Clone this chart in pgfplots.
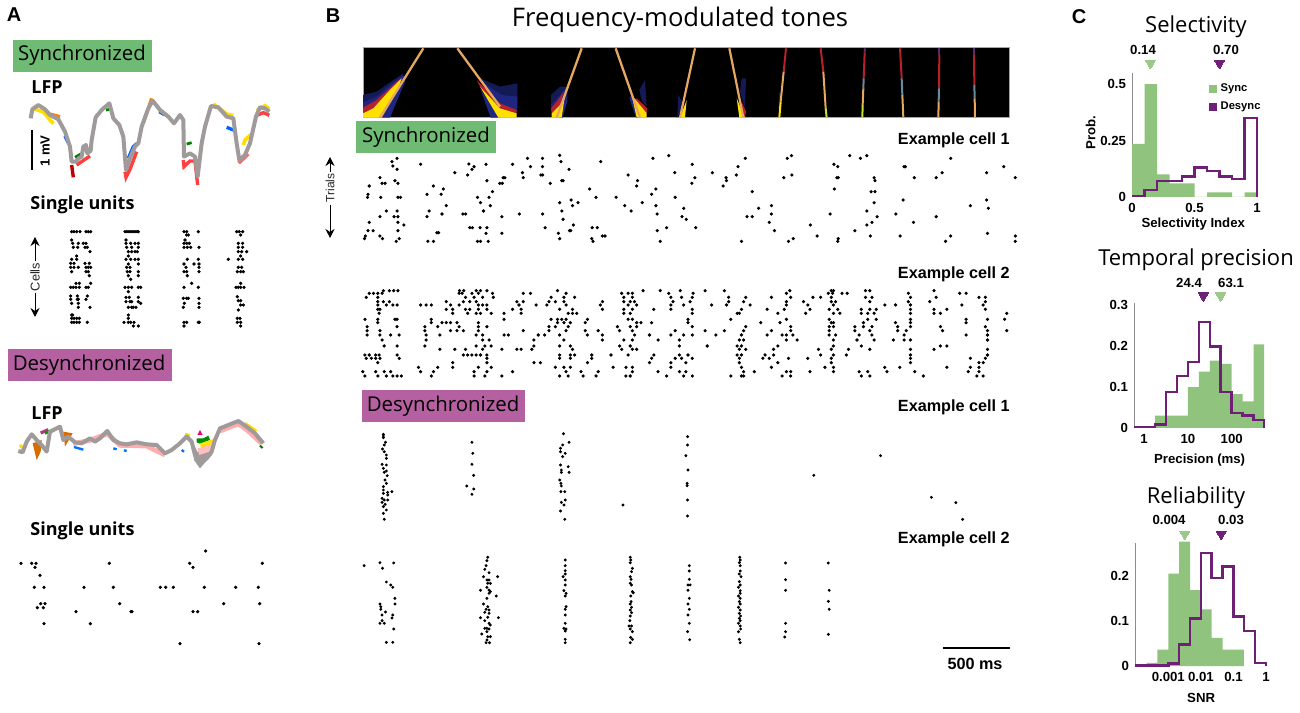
\documentclass[border=0pt]{standalone}
\usepackage{fontspec}
\usepackage{pgfplots}
\pgfplotsset{compat=1.18}
\usetikzlibrary{arrows.meta}
\setmainfont{Liberation Sans}
\newfontfamily\titlefont{Open Sans}
\definecolor{boxgreen}{HTML}{6FBB74}
\definecolor{boxpink}{HTML}{B560A0}
\definecolor{syncg}{HTML}{8FC37E}
\definecolor{desy}{HTML}{6E1F76}
\definecolor{trigreen}{HTML}{9CC88A}
\definecolor{lfpgrey}{HTML}{A09A9A}
\definecolor{lineor}{HTML}{E6A860}
\definecolor{specblue}{HTML}{1E2680}
\definecolor{specdim}{HTML}{141A55}
\definecolor{specred}{HTML}{B8202A}
\definecolor{specpur}{HTML}{5A2A6A}
\definecolor{specgrey}{HTML}{6A8AA0}
\definecolor{specyel}{HTML}{FFE000}
\definecolor{specyg}{HTML}{C8E030}
\newcommand{\titlesize}{\titlefont\fontsize{11}{13}\selectfont}
\newcommand{\smallbold}{\bfseries\fontsize{6.6}{7.5}\selectfont}
\newcommand{\labelbold}{\bfseries\fontsize{8.1}{9}\selectfont}
% 1 px of the reference = 0.5pt here
\pgfplotsset{
  panel/.style n args={6}{hide axis, scale only axis, clip=false, y dir=reverse,
    anchor=south west, at={({#1*0.5pt},{(712-#2-#4)*0.5pt})},
    width={#3*0.5pt}, height={#4*0.5pt}, xmin=0, xmax=#5, ymin=0, ymax=#6},
  hist/.style n args={4}{scale only axis, clip=false, anchor=south west,
    at={({#1*0.5pt},{(712-#2-#4)*0.5pt})}, width={#3*0.5pt}, height={#4*0.5pt},
    axis y line*=left, axis x line*=bottom, axis line style={-},
    x axis line style={draw=none}, y axis line style={draw=black!45, line width=0.4pt},
    tick style={draw=none}, tick label style={font=\smallbold},
    xticklabel style={yshift=0.5pt}, yticklabel style={xshift=0.5pt},
    x label style={font=\smallbold}, y label style={font=\smallbold}},
  bars/.style={const plot, fill=syncg, draw=none},
  steps/.style={const plot, draw=desy, line width=1.25pt, line join=miter},
  tri/.style={only marks, mark=triangle*, mark size=2.9pt, draw=none,
    mark options={rotate=180, draw=#1, line width=0pt, fill=#1}},
  dots/.style={only marks, mark=*, mark size=0.6pt, black, mark options={draw=none, fill=black}},
  sp/.style 2 args={draw=#1, line width=#2pt},
}
\begin{document}
\begin{tikzpicture}
\path[use as bounding box] (0,0) rectangle (650pt,356pt);

% ---- panel A, synchronized LFP
\begin{axis}[panel={0}{30}{290}{170}{870}{510}]
\addplot[draw=yellow!80!orange, line width=1.8pt] coordinates {(100,236) (130,246) (160,281)};
\addplot[draw=yellow!80!orange, line width=1.8pt] coordinates {(640,222) (680,252) (700,257)};
\addplot[draw=yellow!80!orange, line width=1.8pt] coordinates {(730,345) (735,330) (755,312)};
\addplot[draw=yellow!80!orange, line width=1.8pt] coordinates {(770,242) (795,227) (808,237)};
\addplot[draw=orange, line width=1.6pt] coordinates {(150,252) (180,260)};
\addplot[draw=orange, line width=1.6pt] coordinates {(430,280) (455,205)};
\addplot[draw=red!75!black, line width=1.7pt] coordinates {(215,405) (220,442)};
\addplot[draw=red!75, line width=1.7pt] coordinates {(230,405) (270,378)};
\addplot[draw=red!75, line width=1.7pt] coordinates {(375,425) (378,442) (390,418) (410,365)};
\addplot[draw=red!75, line width=1.7pt] coordinates {(550,390) (552,410) (570,393) (585,393) (593,465)};
\addplot[draw=red!60, line width=1.7pt] coordinates {(715,392) (720,396) (745,372)};
\addplot[draw=red!75, line width=1.7pt] coordinates {(770,256) (790,248) (808,256)};
\addplot[draw=blue!60!cyan, line width=1.7pt] coordinates {(385,385) (400,350) (412,340)};
\addplot[draw=blue!60!cyan, line width=1.7pt] coordinates {(478,245) (495,255)};
\addplot[draw=blue!60!cyan, line width=1.7pt] coordinates {(680,292) (700,300)};
\addplot[draw=blue!60!cyan, line width=1.7pt] coordinates {(195,318) (205,338)};
\addplot[draw=green!50!black, line width=1.4pt] coordinates {(225,382) (250,368)};
\addplot[draw=green!50!black, line width=1.4pt] coordinates {(560,342) (575,338)};
\addplot[draw=green!50!black, line width=1.4pt] coordinates {(318,240) (330,238)};
\addplot[draw=lfpgrey, line width=2pt, line join=round] coordinates {
(92,265) (97,238) (115,225) (135,238) (150,255) (175,268) (195,305) (210,350) (215,395)
(228,395) (236,385) (245,380) (250,350) (258,345) (262,370) (272,362) (275,330) (287,262) (305,240) (328,220) (340,265)
(358,285) (370,320) (378,420) (390,385) (405,350) (415,340) (425,290) (445,235) (458,212)
(480,240) (505,260) (522,280) (540,255) (550,270) (552,380) (570,370) (585,380) (593,440)
(605,340) (615,290) (633,228) (655,232) (680,260) (700,265) (710,340) (718,390) (735,375)
(750,340) (768,260) (780,232) (795,235) (808,245)};
\end{axis}

% ---- panel A, synchronized single units
\begin{axis}[panel={0}{190}{290}{160}{870}{480}]
\addplot[dots] coordinates {
(215,125) (222,125) (230,125) (240,125) (258,125) (265,125) (272,125) (215,150) (218,160) (235,160)
(250,160) (258,160) (220,172) (233,172) (255,172) (262,172) (270,185) (230,198) (215,208) (230,208)
(212,220) (222,220) (255,220) (268,220) (212,232) (222,232) (235,232) (258,232) (265,232) (272,232)
(215,245) (258,245) (265,245) (268,257) (228,280) (238,280) (272,280) (212,292) (220,292) (228,292)
(238,292) (258,292) (265,292) (212,318) (232,318) (262,318) (212,328) (232,328) (235,328) (258,328)
(215,340) (235,340) (235,352) (270,352) (215,375) (218,375) (215,385) (222,385) (230,385) (238,385)
(215,397) (222,397) (230,397) (238,397) (262,397)};
\addplot[dots] coordinates {
(375,125) (381,125) (387,125) (393,125) (399,125) (405,125) (411,125) (415,125) (378,150) (378,160)
(392,160) (405,160) (415,160) (380,172) (395,172) (415,172) (385,185) (395,185) (405,185) (412,185)
(385,198) (378,208) (392,208) (405,208) (415,208) (385,222) (415,222) (380,232) (390,232) (382,245)
(390,245) (415,245) (385,257) (415,257) (392,268) (375,292) (385,292) (395,292) (415,292) (422,292)
(385,305) (378,322) (388,322) (415,322) (378,335) (390,335) (395,335) (415,335) (422,340) (385,352)
(395,352) (400,352) (408,352) (385,375) (385,385) (372,397) (385,397) (392,397) (402,397) (400,408) (415,408)};
\addplot[dots] coordinates {
(552,125) (560,125) (595,125) (560,135) (565,135) (555,150) (552,160) (560,160) (568,160) (552,172)
(562,172) (572,172) (597,172) (562,208) (595,208) (552,222) (582,222) (597,222) (558,232) (597,232)
(552,245) (560,245) (597,245) (562,257) (575,280) (552,292) (595,292) (550,325) (560,325) (565,325)
(597,325) (553,340) (597,340) (550,352) (597,352) (552,397) (560,397) (595,397) (598,397) (552,408)};
\addplot[dots] coordinates {
(710,125) (718,125) (728,125) (722,135) (715,160) (728,160) (715,172) (728,172) (715,185) (725,185)
(740,185) (722,198) (685,208) (715,208) (728,208) (715,232) (725,232) (712,245) (722,245) (730,245)
(722,280) (708,292) (715,292) (722,292) (732,292) (712,320) (715,332) (722,332) (722,345) (730,345)
(715,360) (712,385) (720,385) (712,397) (722,397) (722,408)};
\end{axis}

% ---- panel A, desynchronized LFP
\begin{axis}[panel={0}{345}{290}{140}{870}{420}]
\addplot[fill=orange!85!black, draw=none] coordinates {(98,295) (110,345) (122,320) (125,285)} --cycle;
\addplot[fill=orange!85!black, draw=none] coordinates {(190,260) (218,265) (195,305)} --cycle;
\addplot[draw=magenta!70!black, line width=1.6pt] coordinates {(122,264) (145,254)};
\addplot[draw=green!60!black, line width=1.6pt] coordinates {(135,264) (155,258)};
\addplot[draw=yellow!80!orange, line width=1.6pt] coordinates {(60,300) (70,312)};
\addplot[draw=yellow!80!orange, line width=1.6pt] coordinates {(555,268) (570,272)};
\addplot[draw=blue!55!cyan, line width=1.2pt] coordinates {(340,310) (350,313)};
\addplot[draw=blue!55!cyan, line width=1.2pt] coordinates {(372,316) (380,318)};
\addplot[draw=blue!55!cyan, line width=1.2pt] coordinates {(222,306) (250,314)};
\addplot[draw=blue!55!cyan, line width=1.2pt] coordinates {(545,315) (552,320)};
\addplot[fill=lfpgrey, draw=none] coordinates {(575,285) (592,320) (640,310) (636,330) (622,345) (600,370) (582,345)} --cycle;
\addplot[fill=magenta!75!red, draw=none] coordinates {(592,270) (600,255) (608,270)} --cycle;
\addplot[fill=green!55!black, draw=none] coordinates {(590,280) (610,280) (625,272) (630,285) (600,296) (590,292)} --cycle;
\addplot[fill=yellow!85!orange, draw=none] coordinates {(600,296) (640,282) (636,300) (605,315)} --cycle;
\addplot[fill=pink, draw=none] coordinates {(592,310) (636,298) (640,316) (598,330)} --cycle;
\addplot[draw=pink!90!red, line width=2.4pt] coordinates {(220,296) (270,286) (322,266) (360,301) (440,303) (495,330)};
\addplot[draw=pink!90!red, line width=2.4pt] coordinates {(660,258) (715,236) (745,258) (785,296)};
\addplot[draw=yellow!85!orange, line width=1.2pt] coordinates {(735,234) (770,258)};
\addplot[draw=green!45!black, line width=1pt] coordinates {(780,302) (788,309)};
\addplot[draw=lfpgrey, line width=2pt, line join=round] coordinates {
(55,318) (68,322) (80,290) (95,268) (110,285) (125,300) (140,320) (150,260) (180,245) (190,285)
(205,275) (225,292) (245,295) (270,280) (285,290) (300,280) (322,258) (340,285) (360,295) (380,298)
(410,292) (440,298) (470,300) (495,325) (515,315) (540,295) (560,275) (575,290) (585,330) (600,355)
(620,340) (635,320) (645,285) (660,250) (685,240) (715,228) (740,245) (765,265) (790,295)};
\end{axis}

% ---- panel A, desynchronized single units
\begin{axis}[panel={0}{510}{290}{150}{870}{450}]
\addplot[dots] coordinates {
(63,160) (95,160) (108,160) (105,172) (120,196) (103,232) (132,232) (122,281) (135,281) (112,293)
(130,293) (132,341) (228,305) (252,232) (271,341) (328,160) (340,232) (359,281) (393,305) (396,305)
(481,232) (497,232) (520,232) (540,401) (569,160) (579,172) (579,305) (593,305) (613,232) (617,123)
(671,281) (707,232) (775,232) (779,281) (777,401) (787,160)};
\end{axis}

% ---- panel B, stimulus spectrogram
\begin{axis}[panel={363}{48}{646}{70}{1}{1}, clip=true, xmin=9, xmax=1947, ymin=9, ymax=219,
  axis background/.style={fill=black}, hide axis=false, axis line style={draw=black!35, line width=0.5pt},
  xtick=\empty, ytick=\empty]
% first pair
\addplot[fill=specdim, draw=none] coordinates {(9,150) (50,140) (100,105) (130,85) (125,120) (9,190)} --cycle;
\addplot[fill=specblue, draw=none] coordinates {(9,172) (50,155) (90,120) (130,90) (135,110) (90,218) (60,218) (9,200)} --cycle;
\addplot[fill=specred, draw=none] coordinates {(9,188) (50,165) (110,110) (125,100) (85,140) (40,190) (9,205)} --cycle;
\addplot[fill=specyel, draw=none] coordinates {(9,205) (40,190) (85,140) (125,100) (115,130) (65,218) (9,218)} --cycle;
\addplot[fill=specdim, draw=none] coordinates {(360,100) (420,125) (472,115) (472,180) (420,170)} --cycle;
\addplot[fill=specblue, draw=none] coordinates {(365,110) (425,150) (472,155) (472,200) (420,180)} --cycle;
\addplot[fill=specblue, draw=none] coordinates {(360,130) (392,218) (420,218)} --cycle;
\addplot[fill=specred, draw=none] coordinates {(350,105) (420,175) (470,195) (470,205) (420,190) (360,125)} --cycle;
\addplot[fill=specyel, draw=none] coordinates {(360,125) (420,190) (470,205) (470,218) (415,218)} --cycle;
% second pair
\addplot[fill=specdim, draw=none] coordinates {(573,150) (600,125) (620,125) (600,170) (573,190)} --cycle;
\addplot[fill=specblue, draw=none] coordinates {(573,180) (600,150) (622,125) (622,170) (608,218) (598,218)} --cycle;
\addplot[fill=specred, draw=none] coordinates {(573,190) (590,170) (612,140) (600,180) (575,205)} --cycle;
\addplot[fill=specyel, draw=none] coordinates {(575,218) (575,205) (600,180) (615,150) (605,218)} --cycle;
\addplot[fill=specblue, draw=none] coordinates {(808,160) (815,150) (835,218) (828,218)} --cycle;
\addplot[fill=specdim, draw=none] coordinates {(838,135) (855,105) (860,185) (845,165)} --cycle;
\addplot[fill=specred, draw=none] coordinates {(820,165) (830,160) (862,190) (860,205)} --cycle;
\addplot[fill=specyel, draw=none] coordinates {(815,150) (860,205) (860,218) (830,218)} --cycle;
% third pair wedges
\addplot[fill=specdim, draw=none] coordinates {(952,218) (955,150) (972,180)} --cycle;
\addplot[fill=specyel, draw=none] coordinates {(960,218) (980,165) (975,218)} --cycle;
\addplot[fill=specdim, draw=none] coordinates {(1145,100) (1158,100) (1155,190) (1140,140)} --cycle;
\addplot[fill=specred, draw=none] coordinates {(1145,170) (1158,200) (1155,218) (1142,190)} --cycle;
\addplot[fill=specyel, draw=none] coordinates {(1130,160) (1155,218) (1138,218)} --cycle;
\addplot[fill=specdim, draw=none] coordinates {(1255,190) (1258,140) (1265,150) (1262,190)} --cycle;
% chirp lines
\addplot[sp={lineor}{1.15}] coordinates {(60,218) (190,10)};
\addplot[sp={lineor}{1.15}] coordinates {(292,10) (420,185)};
\addplot[sp={lineor}{1.15}] coordinates {(590,218) (665,10)};
\addplot[sp={lineor}{1.15}] coordinates {(767,10) (840,218)};
\addplot[sp={lineor}{1.1}] coordinates {(960,218) (1005,10)};
\addplot[sp={lineor}{1.1}] coordinates {(1108,10) (1150,218)};
% fourth pair
\addplot[sp={specred}{1}] coordinates {(1278,10) (1271,80)};
\addplot[sp={lineor}{1}] coordinates {(1271,80) (1262,170)};
\addplot[sp={specyel}{1}] coordinates {(1262,170) (1258,218)};
\addplot[sp={specred}{1}] coordinates {(1382,10) (1390,80)};
\addplot[sp={lineor}{1}] coordinates {(1390,80) (1397,190)};
\addplot[sp={specyg}{1}] coordinates {(1397,190) (1400,218)};
% fifth pair
\addplot[sp={specpur}{1}] coordinates {(1515,10) (1514,22)};
\addplot[sp={specred}{1}] coordinates {(1514,22) (1511,100)};
\addplot[sp={specgrey}{1}] coordinates {(1511,100) (1510,130)};
\addplot[sp={lineor}{1}] coordinates {(1510,130) (1508,180)};
\addplot[sp={specyg}{1}] coordinates {(1508,180) (1507,218)};
\addplot[sp={specred}{1}] coordinates {(1620,10) (1625,100)};
\addplot[sp={specgrey}{1}] coordinates {(1625,100) (1627,150)};
\addplot[sp={lineor}{1}] coordinates {(1627,150) (1630,218)};
% sixth pair
\addplot[sp={specpur}{1}] coordinates {(1738,10) (1738,30)};
\addplot[sp={specred}{1}] coordinates {(1738,30) (1737,130)};
\addplot[sp={specgrey}{1}] coordinates {(1737,130) (1736,170)};
\addplot[sp={lineor}{1}] coordinates {(1736,170) (1735,218)};
\addplot[sp={specpur}{1}] coordinates {(1842,10) (1842,30)};
\addplot[sp={specred}{1}] coordinates {(1842,30) (1843,120)};
\addplot[sp={specgrey}{1}] coordinates {(1843,120) (1844,160)};
\addplot[sp={lineor}{1}] coordinates {(1844,160) (1845,218)};
\end{axis}

% ---- panel B, synchronized cell 1
\begin{axis}[panel={350}{40}{670}{210}{1566}{630}]
\addplot[dots] coordinates {
(98,365) (110,355) (100,378) (110,388) (165,373) (278,372) (318,373) (290,380) (285,388) (245,398)
(275,405) (380,373) (415,355) (450,355) (422,380) (450,380) (403,398) (405,413) (446,405) (450,405)
(490,346) (493,365) (512,388) (586,365) (708,355) (745,347) (800,373) (907,380) (924,355) (1022,355)
(1032,347) (1131,373) (1140,380) (1168,347) (1193,355) (1208,347) (1295,380) (1298,380) (1404,355) (1528,380)
(1488,398) (1384,398) (1555,413) (1370,413) (1319,413) (1225,413) (1227,422) (1138,413) (1141,413) (1033,405)
(1014,413) (903,405) (879,413) (880,422) (847,398) (806,413) (799,430) (759,398) (672,422) (650,405)
(670,438) (715,447) (872,438) (70,413) (75,430) (82,430) (105,422) (112,430) (45,438) (195,438)
(218,447) (213,463) (180,463) (333,455) (320,422) (358,413) (362,413) (350,430) (356,430) (468,430)
(495,422) (498,422) (560,447) (575,472) (622,472) (705,463) (760,472) (940,455) (1132,447) (1218,455)
(1227,455) (42,463) (41,472) (72,472) (112,472) (118,472) (298,472) (325,472) (305,488) (328,497)
(517,480) (490,488) (533,488) (520,497) (683,488) (642,497) (715,497) (780,505) (657,513) (1225,488)
(1293,480) (1488,480) (1450,497) (1492,505) (985,497) (955,505) (1208,513) (85,513) (110,513) (70,530)
(103,530) (112,530) (225,497) (185,513) (215,522) (180,530) (264,522) (270,522) (312,513) (355,530)
(396,522) (450,522) (495,513) (498,538) (718,522) (776,530) (786,538) (928,530) (940,530) (985,522)
(1122,522) (1232,530) (1276,522) (1370,530) (45,547) (112,547) (126,555) (207,578) (203,578) (280,563)
(286,563) (304,563) (320,563) (456,563) (522,555) (513,572) (516,572) (566,563) (578,563) (808,563)
(740,563) (718,572) (980,547) (992,572) (1076,555) (1180,572) (1208,555) (1220,547) (1317,547) (42,572)
(54,572) (112,572) (318,580) (355,580) (487,580) (1490,580) (36,588) (34,596) (70,588) (76,596)
(115,596) (108,604) (182,604) (195,604) (298,604) (305,604) (323,604) (490,596) (565,596) (568,604)
(590,588) (596,588) (725,604) (915,604) (1025,604) (1036,596) (1092,588) (1141,596) (1140,604) (1216,588)
(1286,588) (1392,604) (1404,588) (1555,588) (1555,604)};
\end{axis}

% ---- panel B, synchronized cell 2
\begin{axis}[panel={350}{260}{670}{130}{1566}{390}]
\addplot[dots] coordinates {
(78,92) (92,92) (102,92) (112,92) (256,92) (266,92) (295,92) (305,92) (320,92) (485,92) (685,92) (725,92) (772,92) (830,92) (875,92) (1028,92) (1125,92) (1130,92) (1205,92) (1215,92) (1365,92)
(45,100) (55,100) (65,100) (75,100) (255,100) (262,100) (285,100) (300,100) (333,100) (405,100) (422,100) (505,100) (635,100) (650,100) (660,100) (745,100) (802,100) (1020,100) (1118,100) (1128,100) (1150,100) (1162,100) (1305,100) (1425,100) (1440,100)
(38,112) (65,112) (270,112) (290,112) (310,112) (335,112) (470,112) (500,112) (525,112) (640,112) (660,112) (750,112) (775,112) (800,112) (885,112) (925,112) (985,112) (1030,112) (1082,112) (1100,112) (1125,112) (1205,112) (1220,112) (1310,112) (1370,112) (1470,112) (1485,112)
(65,125) (78,125) (92,125) (225,125) (265,125) (280,125) (295,125) (390,125) (405,125) (465,125) (480,125) (500,125) (590,125) (640,125) (655,125) (665,125) (755,125) (795,125) (885,125) (920,125) (1020,125) (1060,125) (1125,125) (1135,125) (1215,125) (1305,125) (1355,125) (1485,125)
(65,135) (85,135) (100,135) (110,135) (165,135) (178,135) (190,135) (235,135) (255,135) (300,135) (310,135) (320,135) (395,135) (435,135) (460,135) (505,135) (585,135) (650,135) (670,135) (750,135) (780,135) (845,135) (880,135) (935,135) (1020,135) (1070,135) (1130,135) (1250,135) (1275,135) (1310,135) (1430,135) (1480,135)
(65,148) (70,148) (225,148) (240,148) (270,148) (280,148) (300,148) (320,148) (380,148) (400,148) (490,148) (520,148) (590,148) (640,148) (660,148) (710,148) (750,148) (800,148) (915,148) (975,148) (1015,148) (1075,148) (1120,148) (1140,148) (1195,148) (1215,148) (1230,148) (1310,148) (1365,148) (1395,148) (1485,148)
(68,160) (240,160) (275,160) (295,160) (305,160) (330,160) (360,160) (400,160) (510,160) (520,160) (530,160) (640,160) (655,160) (800,160) (905,160) (910,160) (1000,160) (1065,160) (1130,160) (1145,160) (1195,160) (1210,160) (1225,160) (1310,160) (1365,160) (1380,160) (1535,160)
(35,178) (65,178) (105,178) (110,178) (190,178) (360,178) (470,178) (485,178) (495,178) (505,178) (555,178) (650,178) (660,178) (790,178) (890,178) (1020,178) (1120,178) (1210,178) (1230,178) (1310,178) (1440,178) (1490,178) (1530,178)
(65,188) (190,188) (215,188) (225,188) (235,188) (250,188) (300,188) (485,188) (500,188) (515,188) (550,188) (670,188) (680,188) (705,188) (790,188) (960,188) (1005,188) (1125,188) (1130,188) (1200,188) (1275,188) (1310,188) (1440,188)
(40,200) (110,200) (175,200) (205,200) (255,200) (300,200) (320,200) (465,200) (480,200) (510,200) (625,200) (655,200) (670,200) (800,200) (925,200) (1030,200) (1120,200) (1130,200) (1180,200) (1200,200) (1220,200) (1280,200) (1310,200) (1380,200) (1485,200)
(40,212) (70,212) (175,212) (235,212) (250,212) (265,212) (300,212) (405,212) (465,212) (505,212) (550,212) (580,212) (630,212) (660,212) (760,212) (830,212) (875,212) (920,212) (985,212) (1030,212) (1120,212) (1180,212) (1215,212) (1280,212) (1300,212) (1385,212) (1490,212) (1535,212)
(40,225) (70,225) (95,225) (115,225) (178,225) (210,225) (295,225) (310,225) (360,225) (370,225) (440,225) (455,225) (490,225) (555,225) (590,225) (665,225) (700,225) (750,225) (780,225) (800,225) (855,225) (915,225) (975,225) (1010,225) (1020,225) (1035,225) (1120,225) (1135,225) (1190,225) (1220,225) (1295,225) (1440,225) (1490,225)
(75,240) (178,240) (310,240) (325,240) (430,240) (500,240) (590,240) (640,240) (660,240) (720,240) (770,240) (910,240) (920,240) (1020,240) (1045,240) (1130,240) (1185,240) (1225,240) (1270,240) (1295,240) (1310,240) (1490,240)
(80,258) (110,258) (175,258) (295,258) (315,258) (330,258) (430,258) (490,258) (515,258) (630,258) (655,258) (770,258) (835,258) (905,258) (915,258) (1000,258) (1130,258) (1195,258) (1380,258) (1395,258)
(210,268) (245,268) (270,268) (310,268) (355,268) (390,268) (400,268) (425,268) (520,268) (635,268) (660,268) (670,268) (910,268) (925,268) (990,268) (1095,268) (1125,268) (1165,268) (1215,268) (1310,268) (1365,268) (1490,268)
(35,285) (45,285) (60,285) (68,285) (110,285) (265,285) (275,285) (285,285) (295,285) (305,285) (320,285) (490,285) (515,285) (525,285) (565,285) (610,285) (650,285) (710,285) (770,285) (790,285) (905,285) (915,285) (970,285) (990,285) (1100,285) (1130,285) (1160,285) (1310,285) (1490,285)
(38,295) (50,295) (60,295) (70,295) (115,295) (320,295) (490,295) (515,295) (565,295) (705,295) (760,295) (775,295) (800,295) (910,295) (965,295) (980,295) (1025,295) (1070,295) (1125,295) (1310,295) (1450,295) (1485,295)
(65,308) (240,308) (320,308) (430,308) (445,308) (555,308) (700,308) (750,308) (785,308) (910,308) (1000,308) (1125,308) (1310,308) (1470,308) (1480,308)
(160,322) (205,322) (240,322) (300,322) (330,322) (480,322) (500,322) (515,322) (615,322) (645,322) (660,322) (750,322) (915,322) (985,322) (1110,322) (1130,322) (1250,322) (1285,322) (1395,322) (1450,322) (1470,322)
(30,335) (60,335) (80,335) (95,335) (165,335) (195,335) (290,335) (320,335) (380,335) (505,335) (540,335) (580,335) (660,335) (720,335) (770,335) (785,335) (920,335) (945,335) (1020,335) (1030,335) (1075,335) (1130,335) (1190,335) (1210,335) (1255,335) (1320,335) (1445,335) (1470,335)
(35,348) (65,348) (85,348) (100,348) (110,348) (120,348) (190,348) (290,348) (315,348) (355,348) (490,348) (510,348) (545,348) (575,348) (645,348) (655,348) (740,348) (780,348) (800,348) (890,348) (915,348) (920,348) (1010,348) (1030,348) (1195,348) (1215,348) (1340,348) (1465,348) (1480,348)};
\end{axis}

% ---- panel B, desynchronized cell 1
\begin{axis}[panel={350}{385}{670}{150}{1566}{450}]
\addplot[dots, mark size=0.52pt] coordinates {
(78,148) (78,153) (78,158) (83,172) (80,180) (76,192) (80,200) (85,210) (85,220) (75,238)
(85,240) (78,250) (85,258) (80,262) (87,272) (82,285) (85,295) (78,305) (78,315) (88,322)
(98,320) (78,325) (88,330) (75,340) (80,345) (88,345) (75,352) (82,358) (78,365) (85,375)
(78,385) (80,403) (285,172) (287,205) (285,238) (289,271) (273,303) (289,312) (285,328)
(499,146) (512,172) (497,180) (492,190) (492,200) (503,205) (497,215) (492,240) (510,245) (494,255)
(512,262) (494,262) (490,285) (493,295) (494,303) (493,320) (502,320) (503,345) (494,352) (500,360)
(492,378) (502,403) (638,360) (789,155) (789,180) (785,212) (790,255) (788,295) (788,302) (789,345)
(789,393) (1084,271) (1240,212) (1359,337) (1416,353) (1432,403)};
\end{axis}

% ---- panel B, desynchronized cell 2
\begin{axis}[panel={350}{530}{670}{150}{1566}{450}]
\addplot[dots, mark size=0.52pt] coordinates {
(33,107) (70,98) (102,99) (76,115) (85,156) (95,165) (100,172) (105,205) (105,222) (70,222)
(72,230) (72,238) (83,246) (100,255) (98,264) (75,255) (75,272) (70,280) (80,280) (102,297)
(85,337) (100,337)
(322,82) (320,92) (318,107) (315,118) (325,128) (312,140) (345,140) (320,150) (325,150) (322,160)
(328,160) (320,172) (325,180) (328,185) (305,181) (325,190) (342,198) (320,205) (312,222) (322,230)
(318,238) (325,240) (315,247) (325,250) (322,262) (305,263) (347,263) (315,272) (325,280) (328,285)
(320,295) (315,295) (325,297) (308,312) (320,305) (322,320) (328,320) (320,330) (318,338) (326,338)
(503,90) (503,107) (503,122) (503,132) (498,140) (503,150) (503,165) (500,182) (505,190) (503,198)
(505,230) (503,238) (503,255) (503,280) (500,295) (505,297) (503,303) (503,328) (503,338)
(655,82) (656,90) (655,98) (660,115) (658,125) (655,140) (657,148) (655,160) (658,165) (660,185)
(662,188) (656,198) (657,215) (655,222) (658,232) (655,240) (658,248) (655,258) (654,272) (652,288)
(658,288) (655,297) (660,305) (656,322) (660,328) (655,338)
(793,107) (793,123) (793,148) (790,165) (795,165) (790,181) (793,205) (790,222) (793,238) (790,255)
(793,280) (789,305) (794,329)
(911,82) (912,90) (910,98) (912,107) (912,123) (910,132) (914,140) (910,155) (912,165) (908,172)
(912,182) (912,190) (908,198) (912,205) (910,215) (912,222) (908,232) (912,240) (910,250) (913,258)
(910,265) (912,272) (908,280) (912,288) (913,297) (908,305) (910,328) (912,338)
(1018,99) (1018,149) (1018,181) (1018,280) (1018,305) (1016,321)
(1118,99) (1120,181) (1118,214) (1120,238) (1118,313)};
\end{axis}

% ---- panel C, selectivity
\begin{axis}[hist={1132}{73}{125}{124}, xmin=0, xmax=1, ymin=0, ymax=0.549,
  xtick={0,0.5,1}, xticklabels={0,0.5,1}, ytick={0,0.25,0.5}, yticklabels={0,0.25,0.5},
  xlabel={Selectivity Index}, ylabel={Prob.},
  x label style={at={(axis description cs:0.49,-0.22)}, anchor=center},
  y label style={at={(axis description cs:-0.33,0.52)}, anchor=center},
  legend image code/.code={\fill[#1] (0,-2pt) rectangle (4pt,2pt);},
  legend style={at={(axis description cs:0.61,0.95)}, anchor=north west, draw=none, fill=none,
    font=\bfseries\fontsize{5.6}{6.5}\selectfont, row sep=-0.5pt, inner sep=0pt},
  legend cell align=left]
\addplot[bars, forget plot] coordinates {(0,0.235) (0.1,0.5) (0.2,0.1) (0.3,0.06) (0.4,0.06) (0.5,0) (0.6,0.02) (0.7,0.02) (0.8,0) (0.9,0.02) (1,0.02)} \closedcycle;
\addplot[steps, forget plot] coordinates {(0,0.005) (0.1,0.03) (0.2,0.07) (0.3,0.07) (0.4,0.09) (0.5,0.13) (0.6,0.115) (0.7,0.09) (0.8,0.08) (0.9,0.35) (1,0.35) (1,0)};
\addlegendimage{fill=syncg, draw=none}
\addlegendentry{Sync}
\addlegendimage{fill=desy, draw=none}
\addlegendentry{Desync}
\addplot[tri=trigreen, forget plot] coordinates {(0.147,0.593)};
\addplot[tri=desy, forget plot] coordinates {(0.70,0.593)};
\end{axis}

% ---- panel C, temporal precision
\begin{axis}[hist={1134}{303}{130}{125}, xmode=log, xmin=0.59, xmax=546, ymin=0, ymax=0.306,
  xtick={1,10,100}, xticklabels={1,10,100}, ytick={0,0.1,0.2,0.3}, yticklabels={0,0.1,0.2,0.3},
  xlabel={Precision (ms)},
  x label style={at={(axis description cs:0.505,-0.255)}, anchor=center}]
\addplot[bars] coordinates {(0.59,0) (1.78,0.03) (3.16,0.03) (5.62,0.03) (10,0.10) (17.8,0.138) (31.6,0.165) (56.2,0.157) (100,0.083) (178,0.065) (316,0.205) (546,0.205)} \closedcycle;
\addplot[steps] coordinates {(0.59,0.002) (1,0.002) (1.78,0.008) (3.16,0.088) (5.62,0.127) (10,0.162) (17.8,0.26) (31.6,0.2) (56.2,0.088) (100,0.037) (178,0.03) (316,0.019) (546,0.019) (546,0)};
\addplot[tri=desy] coordinates {(22.6,0.324)};
\addplot[tri=trigreen] coordinates {(56,0.324)};
\end{axis}

% ---- panel C, reliability
\begin{axis}[hist={1135}{543}{131}{123}, xmode=log, xmin=0.000095, xmax=1, ymin=0, ymax=0.272,
  xtick={0.001,0.01,0.1,1}, xticklabels={0.001,0.01,0.1,1}, ytick={0,0.1,0.2}, yticklabels={0,0.1,0.2},
  xlabel={SNR},
  x label style={at={(axis description cs:0.505,-0.26)}, anchor=center}]
\addplot[bars] coordinates {(0.000095,0) (0.000214,0.007) (0.000464,0.036) (0.001,0.204) (0.00214,0.275) (0.00464,0.168) (0.01,0.125) (0.0214,0.062) (0.0464,0.036) (0.1,0.036) (0.21,0)} \closedcycle;
\addplot[steps] coordinates {(0.000095,0.001) (0.001,0.005) (0.00214,0.047) (0.00464,0.105) (0.01,0.25) (0.0214,0.195) (0.0464,0.22) (0.1,0.11) (0.214,0.077) (0.464,0.007) (1,0.007) (1,0)};
\addplot[tri=trigreen] coordinates {(0.0032,0.292)};
\addplot[tri=desy] coordinates {(0.042,0.292)};
\end{axis}

% ---- labels, boxes and scale bars, in reference pixels
\begin{scope}[x=0.5pt, y=-0.5pt, yshift=356pt]
\fill[boxgreen] (13,40) rectangle (152,72);
\fill[boxpink] (8,349) rectangle (172,381);
\fill[boxgreen] (356,121) rectangle (496,153);
\fill[boxpink] (361.5,390) rectangle (524.5,422);
\node[anchor=center, font=\titlefont\fontsize{10.2}{12}\selectfont] at (82,55) {Synchronized};
\node[anchor=center, font=\titlefont\fontsize{10.2}{12}\selectfont] at (89,365) {Desynchronized};
\node[anchor=center, font=\titlefont\fontsize{10.2}{12}\selectfont] at (426,137) {Synchronized};
\node[anchor=center, font=\titlefont\fontsize{10.2}{12}\selectfont] at (443,406) {Desynchronized};
\node[font=\bfseries\fontsize{10}{11}\selectfont] at (14,15) {A};
\node[font=\bfseries\fontsize{10}{11}\selectfont] at (333,16) {B};
\node[font=\bfseries\fontsize{10}{11}\selectfont] at (1079,17) {C};
\node[anchor=west, font=\titlefont\bfseries\fontsize{9}{10}\selectfont, inner sep=0pt] at (31,87) {LFP};
\node[anchor=west, font=\titlefont\bfseries\fontsize{9}{10}\selectfont, inner sep=0pt] at (30,205) {Single units};
\node[anchor=west, font=\titlefont\bfseries\fontsize{9}{10}\selectfont, inner sep=0pt] at (31,413) {LFP};
\node[anchor=west, font=\titlefont\bfseries\fontsize{9}{10}\selectfont, inner sep=0pt] at (30,531) {Single units};
\node[font=\titlefont\fontsize{12.8}{15}\selectfont] at (680,20) {Frequency-modulated tones};
\node[font=\titlesize] at (1196,27) {Selectivity};
\node[font=\titlesize] at (1196,260) {Temporal precision};
\node[font=\titlesize] at (1196,498) {Reliability};
\node[anchor=east, font=\labelbold, inner sep=0pt] at (1010,140) {Example cell 1};
\node[anchor=east, font=\labelbold, inner sep=0pt] at (1010,274) {Example cell 2};
\node[anchor=east, font=\labelbold, inner sep=0pt] at (1010,407) {Example cell 1};
\node[anchor=east, font=\labelbold, inner sep=0pt] at (1010,539) {Example cell 2};
\draw[line width=1.2pt] (943,648) -- (1010,648);
\node[font=\labelbold] at (975,664) {500 ms};
\draw[line width=1pt] (32,130) -- (32,170);
\node[rotate=90, font=\smallbold] at (45,151) {1 mV};
% arrows with rotated words
\draw[-{Stealth[length=4.5pt,width=4.5pt]}, line width=0.5pt] (35,261) -- (35,237);
\draw[-{Stealth[length=4.5pt,width=4.5pt]}, line width=0.5pt] (35,293) -- (35,317);
\node[rotate=90, font=\fontsize{6.4}{7}\selectfont, text=black!85] at (35,277) {Cells};
\draw[-{Stealth[length=4.5pt,width=4.5pt]}, line width=0.5pt] (330,172) -- (330,157);
\draw[-{Stealth[length=4.5pt,width=4.5pt]}, line width=0.5pt] (330,205) -- (330,238);
\node[rotate=90, font=\fontsize{6}{7}\selectfont, text=black!85] at (330,188) {Trials};
% values above the histograms
\node[font=\smallbold] at (1143,50) {0.14};
\node[font=\smallbold] at (1226,50) {0.70};
\node[font=\smallbold] at (1189,283) {24.4};
\node[font=\smallbold] at (1231,283) {63.1};
\node[font=\smallbold] at (1169,520) {0.004};
\node[font=\smallbold] at (1231,520) {0.03};
\end{scope}
\end{tikzpicture}
\end{document}
